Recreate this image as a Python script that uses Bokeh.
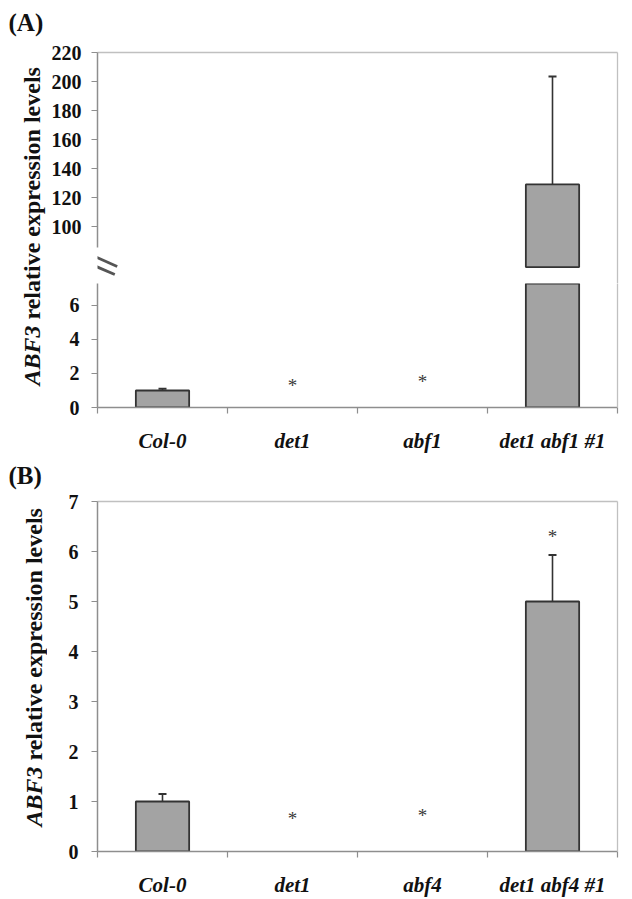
import numpy as np
from math import pi
from bokeh.plotting import figure
from bokeh.layouts import column, row
from bokeh.models import (ColumnDataSource, Range1d, LinearAxis, FixedTicker,
                          CustomJSTickFormatter, Label, Arrow)
from bokeh.core.properties import value
from bokeh.embed import file_html
from bokeh.resources import INLINE

# ---------------- data ----------------
cats_a = ["Col-0", "det1", "abf1", "det1 abf1 #1"]
expr_a = [1.0, 0.0, 0.0, 129.0]
err_a = [0.1, 0.0, 0.0, 74.4]
star_a = [None, 1.47, 1.7, None]

cats_b = ["Col-0", "det1", "abf4", "det1 abf4 #1"]
expr_b = [1.0, 0.0, 0.0, 5.0]
err_b = [0.15, 0.0, 0.0, 0.93]
star_b = [None, 0.73, 0.79, 6.37]

ticks_a_upper = [100, 120, 140, 160, 180, 200, 220]
ticks_a_lower = [0, 2, 4, 6]
ticks_b = [0, 1, 2, 3, 4, 5, 6, 7]

# broken axis settings for panel A
a_upper_range = (60.7, 220)
a_upper_axis_bounds = (85.5, 220)
a_upper_cut = 72
a_lower_range = (0, 7.29)
b_range = (0, 7)

# ---------------- style ----------------
FONT = "Liberation Serif"
AXIS_COLOR = "#8e8e8e"
BORDER_COLOR = "#c0c0c0"
BAR_FILL = "#a3a3a3"
BAR_LINE = "#333333"
TEXT = "#111111"
BAR_W = 0.41
LW = 47  # width of the left strip holding the y title and panel letter


def base_fig(cats, width, height, yr, mbl, mbr, mbt, mbb):
    p = figure(x_range=Range1d(0, len(cats)), y_range=Range1d(*yr),
               width=width, height=height, toolbar_location=None, output_backend="svg",
               x_axis_type=None, y_axis_type=None, title=None,
               min_border_left=mbl, min_border_right=mbr,
               min_border_top=mbt, min_border_bottom=mbb)
    p.outline_line_color = None
    p.background_fill_color = "white"
    p.border_fill_color = "white"
    return p


def add_yaxis(p, ticks, standoff, bounds=None):
    ax = LinearAxis(ticker=FixedTicker(ticks=ticks))
    ax.axis_line_color = AXIS_COLOR
    ax.axis_line_width = 1.5
    ax.major_tick_line_color = AXIS_COLOR
    ax.major_tick_line_width = 1.2
    ax.major_tick_out = 6
    ax.major_tick_in = 0
    ax.minor_tick_line_color = None
    ax.major_label_text_font = FONT
    ax.major_label_text_font_style = "bold"
    ax.major_label_text_font_size = "20px"
    ax.major_label_text_color = TEXT
    ax.major_label_standoff = standoff
    if bounds is not None:
        ax.bounds = bounds
    p.add_layout(ax, "left")


def add_xaxis(p, cats):
    n = len(cats)
    centers = [float(i) + 0.5 for i in range(n)]
    edges = [float(i) for i in range(n + 1)]
    ax = LinearAxis(ticker=FixedTicker(ticks=centers, minor_ticks=edges),
                    formatter=CustomJSTickFormatter(args=dict(labels=cats),
                                                    code="return labels[Math.floor(tick)];"))
    ax.axis_line_color = AXIS_COLOR
    ax.axis_line_width = 1.5
    ax.major_tick_line_color = None
    ax.major_tick_out = 0
    ax.major_tick_in = 0
    ax.minor_tick_line_color = AXIS_COLOR
    ax.minor_tick_line_width = 1.2
    ax.minor_tick_out = 6
    ax.minor_tick_in = 0
    ax.major_label_text_font = FONT
    ax.major_label_text_font_style = "bold italic"
    ax.major_label_text_font_size = "21px"
    ax.major_label_text_color = TEXT
    ax.major_label_standoff = 15
    p.add_layout(ax, "below")


def add_border(p, side):
    ax = LinearAxis(ticker=FixedTicker(ticks=[]))
    ax.axis_line_color = BORDER_COLOR
    ax.axis_line_width = 1.3
    ax.major_tick_out = 0
    ax.major_tick_in = 0
    ax.minor_tick_out = 0
    ax.minor_tick_in = 0
    ax.major_label_standoff = 0
    ax.major_label_text_font_size = "0px"
    p.add_layout(ax, side)


def draw_bars(p, cats, vals, errs, stars, bottom=0.0, keep_min=None):
    idx = [i for i, v in enumerate(vals) if v > 0 and (keep_min is None or v > keep_min)]
    src = ColumnDataSource(dict(
        x=[i + 0.5 for i in idx],
        cat=[cats[i] for i in idx],
        top=[vals[i] for i in idx],
        hi=[vals[i] + errs[i] for i in idx],
    ))
    p.segment(x0="x", y0="top", x1="x", y1="hi", source=src,
              line_color=BAR_LINE, line_width=1.6)
    p.scatter(x="x", y="hi", source=src, marker="dash", size=8,
              line_color=BAR_LINE, line_width=2)
    p.vbar(x="x", bottom=bottom, top="top", width=BAR_W, source=src,
           fill_color=BAR_FILL, line_color=BAR_LINE, line_width=1.8)
    sidx = [i for i, s in enumerate(stars) if s is not None]
    if sidx:
        ssrc = ColumnDataSource(dict(x=[i + 0.5 for i in sidx],
                                     y=[stars[i] for i in sidx],
                                     t=["*"] * len(sidx)))
        p.text(x="x", y="y", text="t", source=ssrc, text_font=value(FONT),
               text_font_size="19px", text_align="center", text_baseline="middle",
               text_color="#3a3a3a", y_offset=3)


def left_strip(height, letter, letter_y, title_start, title_x):
    """Left strip: panel letter plus two-style rotated y title (screen units, y up)."""
    s = figure(width=LW, height=height, toolbar_location=None, output_backend="svg",
               x_axis_type=None, y_axis_type=None, title=None,
               x_range=Range1d(0, 1), y_range=Range1d(0, 1), min_border=0)
    s.outline_line_color = None
    s.add_layout(Label(x=8, y=letter_y, x_units="screen", y_units="screen", text=letter,
                       text_font=FONT, text_font_style="bold", text_font_size="25px",
                       text_color=TEXT, text_baseline="alphabetic", text_align="left"))
    s.add_layout(Label(x=title_x, y=title_start, x_units="screen", y_units="screen",
                       text="ABF3", angle=pi / 2, text_font=FONT,
                       text_font_style="bold italic", text_font_size="24px",
                       text_color=TEXT, text_baseline="middle", text_align="left"))
    s.add_layout(Label(x=title_x, y=title_start + 66, x_units="screen", y_units="screen",
                       text="relative expression levels", angle=pi / 2, text_font=FONT,
                       text_font_style="bold", text_font_size="24px",
                       text_color=TEXT, text_baseline="middle", text_align="left"))
    return s


# ---------------- panel A ----------------
HA = 455
la = left_strip(HA, "(A)", HA - 22, HA - 385, 31)

a_top = base_fig(cats_a, 632 - LW, 283, a_upper_range, 45, 14, 52, 0)
add_yaxis(a_top, ticks_a_upper, 10, bounds=a_upper_axis_bounds)
add_border(a_top, "above")
add_border(a_top, "right")
draw_bars(a_top, cats_a, expr_a, err_a, [None] * len(cats_a),
          bottom=a_upper_cut, keep_min=a_upper_cut)
# axis break marks (screen units relative to the frame)
for (x0, y0, x1, y1) in [(-11.3, 30.7, 19.7, 17.0), (-15.3, 23.0, 17.3, 9.0)]:
    a_top.add_layout(Arrow(end=None, x_start=x0, y_start=y0, x_end=x1, y_end=y1,
                           start_units="screen", end_units="screen",
                           line_color="#555555", line_width=2.8))

a_bot = base_fig(cats_a, 632 - LW, HA - 283, a_lower_range, 50, 15, 0, 48)
add_yaxis(a_bot, ticks_a_lower, 12)
add_xaxis(a_bot, cats_a)
add_border(a_bot, "right")
draw_bars(a_bot, cats_a, expr_a, err_a, star_a)

# ---------------- panel B ----------------
HB = 444
lb = left_strip(HB, "(B)", HB - (475 - HA), HB - (826 - HA), 33)

pb = base_fig(cats_b, 632 - LW, HB, b_range, 50, 15, 46, 44)
add_yaxis(pb, ticks_b, 13)
add_xaxis(pb, cats_b)
add_border(pb, "above")
add_border(pb, "right")
draw_bars(pb, cats_b, expr_b, err_b, star_b)

layout = column(row(la, column(a_top, a_bot)), row(lb, column(pb)))

open("out.html", "w").write(file_html(layout, INLINE))
